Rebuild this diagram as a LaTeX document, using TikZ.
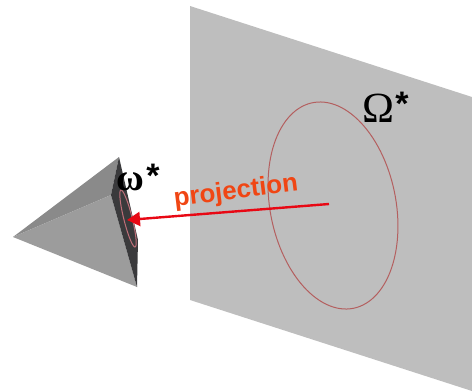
\documentclass[tikz,border=0pt]{standalone}
\usepackage{fontspec}
\setmainfont{Liberation Serif}
\newfontfamily\labelsans{Liberation Sans}
\usetikzlibrary{arrows.meta}
\definecolor{planegray}{RGB}{190,190,190}
\definecolor{topface}{RGB}{138,138,138}
\definecolor{lowface}{RGB}{156,156,156}
\definecolor{darkface}{RGB}{58,58,60}
\definecolor{ringred}{RGB}{180,95,95}
\definecolor{ringpink}{RGB}{190,110,120}
\definecolor{arrowred}{RGB}{232,8,20}
\definecolor{labelorange}{RGB}{240,70,20}
\tikzset{
  ring/.style={line width=1pt},
  glyph/.style={inner sep=0pt,text=black},
  starmark/.style={inner sep=0pt,text=black,font=\labelsans\bfseries\fontsize{34}{34}\selectfont},
}
\begin{document}
\begin{tikzpicture}[x=1pt,y=-1pt]
\useasboundingbox (0,0) rectangle (472,391);
\fill[planegray] (190,6) -- (472,97) -- (472,391) -- (190,300) -- cycle;
\draw[ring,ringred] plot[domain=0:360,samples=120,variable=\t] ({333+104.8*cos(\t)*0.194+62.9*sin(\t)*0.981},{205.5+104.8*cos(\t)*0.981-62.9*sin(\t)*0.194}) -- cycle;
\fill[topface] (13,237) -- (119,157) -- (111,195) -- cycle;
\fill[lowface] (13,237) -- (111,195) -- (137,287) -- cycle;
\fill[darkface] (119,157) -- (138,240) -- (137,287) -- (111,195) -- cycle;
\draw[ring,ringpink] plot[domain=0:360,samples=60,variable=\t] ({128+29.3*cos(\t)*0.242+4.2*sin(\t)*0.970},{218.5+29.3*cos(\t)*0.970-4.2*sin(\t)*0.242}) -- cycle;
\coordinate (arrowtail) at (329,204);
\coordinate (arrowtip) at (127,220);
\draw[arrowred,line width=2.4pt,-{Triangle[length=13pt,width=14pt]}] (arrowtail) -- (arrowtip);
\node[text=labelorange,font=\labelsans\bfseries\fontsize{25.8}{26}\selectfont,rotate=7,inner sep=0pt] (projlabel) at (236,192) {projection};
\node[glyph,font=\bfseries\fontsize{38}{38}\selectfont] (smallomega) at (130,182) {ω};
\node[starmark] (smallstar) at (153,176) {*};
\node[glyph,font=\fontsize{43}{43}\selectfont] (bigomega) at (378,108) {Ω};
\node[starmark] (bigstar) at (402,104) {*};
\end{tikzpicture}
\end{document}
